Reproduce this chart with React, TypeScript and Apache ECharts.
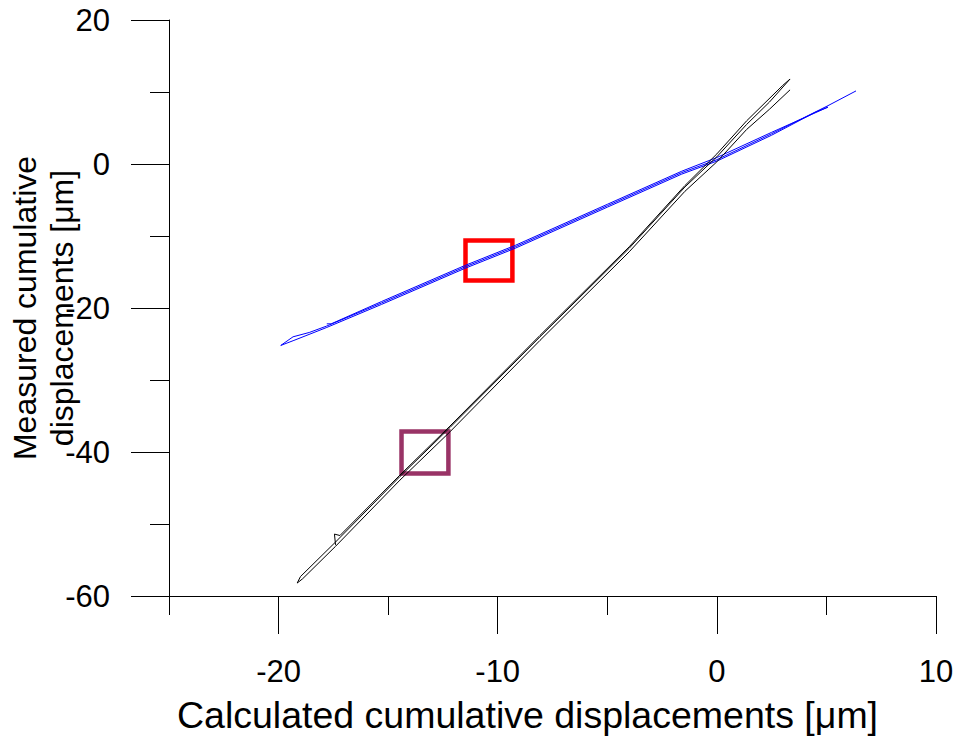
import React, { useEffect, useRef } from 'react';
import * as echarts from 'echarts';

const FONT = "'Liberation Sans', Arial, Helvetica, sans-serif";

const xTitle = 'Calculated cumulative displacements [μm]';
const yTitle = 'Measured cumulative\ndisplacements [μm]';

const xMajorTicks = [-20, -10, 0, 10];
const xMinorTicks = [-25, -15, -5, 5];

// Blue hysteresis trace [calculated, measured]
const blueTrace: [number, number][] = [
  [-17.8, -22.2], [-17.6, -22.2], [-15.3, -19.1], [-11.5, -14.1], [-9.2, -11.3],
  [-5.0, -5.6], [-1.6, -1.0], [0.0, 0.9], [2.5, 4.4], [5.07, 7.9],
  [4.5, 7.2], [2.5, 4.0], [0.0, 0.4], [-1.6, -1.4], [-5.0, -6.0],
  [-9.2, -11.7], [-11.5, -14.5], [-15.3, -19.5], [-17.8, -22.7], [-19.3, -24.5], [-19.9, -25.2],
  [-19.34, -24.0], [-18.6, -23.4], [-17.8, -22.5], [-15.3, -19.3], [-11.5, -14.3],
  [-9.2, -11.5], [-5.0, -5.8], [-1.6, -1.2], [0.0, 0.6], [2.5, 4.2],
  [5.07, 8.1], [6.35, 10.15],
];

// Black hysteresis trace [calculated, measured]
const blackTrace: [number, number][] = [
  [3.34, 10.3], [2.4, 7.6], [1.36, 4.8], [0.0, 0.3], [-1.46, -3.8],
  [-4.0, -12.2], [-8.07, -24.5], [-12.18, -37.2], [-14.46, -43.9], [-17.4, -53.1],
  [-18.9, -57.6], [-19.15, -58.2],
  [-19.0, -57.3], [-17.4, -52.5], [-14.46, -43.4], [-12.18, -36.6], [-8.07, -24.0],
  [-4.0, -11.7], [-1.46, -3.2], [0.0, 1.0], [1.36, 5.5], [2.4, 8.6], [3.34, 11.8],
  [3.0, 10.9], [1.36, 6.0], [0.0, 1.4], [-1.46, -3.0], [-4.0, -11.5],
  [-8.07, -23.8], [-12.18, -36.4], [-14.46, -43.2], [-17.2, -51.6], [-17.45, -51.4], [-17.4, -52.9],
];

// Highlight boxes: [[x1, y1], [x2, y2]]
const redBox: [number, number][] = [[-11.47, -10.62], [-9.33, -16.18]];
const purpleBox: [number, number][] = [[-14.39, -37.15], [-12.25, -43.0]];

export default function App() {
  const ref = useRef<HTMLDivElement>(null);

  useEffect(() => {
    if (!ref.current) return;
    const chart = echarts.init(ref.current, null, { renderer: 'svg' });
    const labelStyle = { fontSize: 31, color: '#000', fontFamily: FONT };
    chart.setOption({
      animation: false,
      backgroundColor: '#ffffff',
      grid: { left: 169, right: 23, top: 20, bottom: 144, containLabel: false, outerBoundsMode: 'none' },
      xAxis: [
        {
          type: 'value',
          min: -25,
          max: 10,
          position: 'bottom',
          axisLine: { show: true, onZero: false, lineStyle: { color: '#000', width: 1 } },
          axisTick: { show: true, customValues: xMajorTicks, length: 38, lineStyle: { color: '#000', width: 1 } },
          axisLabel: { show: true, customValues: xMajorTicks, margin: 60, ...labelStyle },
          splitLine: { show: false },
          name: xTitle,
          nameLocation: 'middle',
          nameGap: 100,
          nameMoveOverlap: false,
          nameTextStyle: { fontSize: 37.5, color: '#000', fontFamily: FONT, padding: [0, 50, 0, 0] },
        },
        {
          type: 'value',
          min: -25,
          max: 10,
          position: 'bottom',
          axisLine: { show: false, onZero: false },
          axisTick: { show: true, customValues: xMinorTicks, length: 19, lineStyle: { color: '#000', width: 1 } },
          axisLabel: { show: false },
          splitLine: { show: false },
        },
      ],
      yAxis: {
        type: 'value',
        min: -60,
        max: 20,
        interval: 20,
        axisLine: { show: true, onZero: false, lineStyle: { color: '#000', width: 1 } },
        axisTick: { show: true, length: 38, lineStyle: { color: '#000', width: 1 } },
        minorTick: { show: true, splitNumber: 2, length: 19, lineStyle: { color: '#000', width: 1 } },
        axisLabel: { margin: 59, ...labelStyle },
        splitLine: { show: false },
        minorSplitLine: { show: false },
        name: yTitle,
        nameLocation: 'middle',
        nameGap: 89,
        nameMoveOverlap: false,
        nameTextStyle: { fontSize: 32, lineHeight: 37, color: '#000', fontFamily: FONT, align: 'center' },
      },
      series: [
        {
          type: 'line',
          xAxisIndex: 0,
          data: blueTrace,
          showSymbol: false,
          symbol: 'none',
          lineStyle: { color: '#0000ff', width: 1 },
          markArea: {
            silent: true,
            itemStyle: { color: 'rgba(0,0,0,0)', borderColor: '#ff0000', borderWidth: 4.5 },
            data: [[{ coord: redBox[0] }, { coord: redBox[1] }]],
          },
          z: 2,
        },
        {
          type: 'line',
          xAxisIndex: 0,
          data: blackTrace,
          showSymbol: false,
          symbol: 'none',
          lineStyle: { color: '#000000', width: 1 },
          markArea: {
            silent: true,
            itemStyle: { color: 'rgba(0,0,0,0)', borderColor: '#993366', borderWidth: 4.5 },
            data: [[{ coord: purpleBox[0] }, { coord: purpleBox[1] }]],
          },
          z: 2,
        },
      ],
    });
    return () => chart.dispose();
  }, []);

  return (
    <div
      ref={ref}
      style={{ position: 'absolute', left: 0, top: 0, width: 959, height: 740, background: '#fff' }}
    />
  );
}
